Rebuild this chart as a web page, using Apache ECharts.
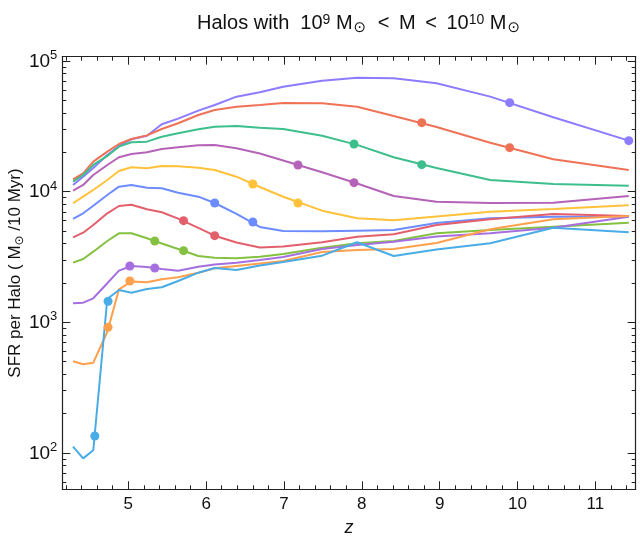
<!DOCTYPE html>
<html><head><meta charset="utf-8">
<script src="https://cdn.jsdelivr.net/npm/echarts@6/dist/echarts.min.js"></script>
<style>html,body{margin:0;padding:0;background:#fff}#c{width:640px;height:538px}</style>
</head><body><div id="c"></div>
<script>
// redshift grid shared by all curves
const zGrid = [4.29, 4.42, 4.55, 4.73, 4.88, 5.04, 5.24, 5.43, 5.64, 5.90, 6.11, 6.39, 6.69, 6.99, 7.49, 7.94, 8.41, 8.96, 9.65, 10.46, 11.43];
// SFR per halo curves
const sA = [11230, 13000, 15160, 19050, 22340, 25120, 26770, 32730, 36130, 41590, 45980, 53230, 57510, 63480, 70560, 74390, 73600, 67390, 53230, 37030, 24520];
const sB = [12420, 13800, 16930, 20200, 23130, 25260, 26900, 30130, 33310, 38560, 42100, 44620, 45980, 47620, 47370, 44620, 37880, 31210, 23660, 17670, 14630];
const sC = [11900, 13400, 15980, 18730, 22060, 23840, 24090, 26300, 27930, 29970, 31380, 31770, 30830, 30130, 26770, 22770, 18300, 15160, 12270, 11430, 11090];
const sD = [10160, 11230, 13400, 15980, 18300, 19400, 19990, 21180, 21820, 22610, 22730, 21440, 19570, 17300, 14050, 11530, 9254, 8369, 8179, 8223, 9254];
const sE = [8136, 9141, 10290, 12270, 14370, 15340, 15070, 15700, 15620, 15240, 14630, 13000, 10840, 9124, 7144, 6248, 6031, 6450, 7018, 7360, 7856];
const sF = [6171, 6823, 7800, 9419, 10900, 11230, 10710, 10600, 9808, 9141, 8179, 6751, 5359, 4995, 4969, 5021, 5083, 5751, 6248, 6427, 6427];
const sG = [4469, 4847, 5552, 6823, 7759, 7940, 7321, 6944, 6205, 5284, 4598, 4078, 3735, 3802, 4093, 4517, 4713, 5552, 6140, 6739, 6506];
const sH = [2858, 3050, 3469, 4188, 4796, 4796, 4391, 4008, 3638, 3216, 3121, 3088, 3177, 3331, 3722, 4022, 4188, 4796, 5083, 5387, 5782];
const sI = [1398, 1413, 1526, 1988, 2482, 2697, 2649, 2557, 2482, 2663, 2769, 2858, 2997, 3160, 3638, 3903, 4137, 4534, 4796, 5294, 6427];
const sJ = [503, 477, 491, 843, 1788, 2052, 2023, 2133, 2210, 2396, 2590, 2697, 2818, 2944, 3451, 3575, 3638, 4044, 5146, 6140, 6506];
const sK = [112, 91, 105, 1507, 1767, 1684, 1798, 1853, 2070, 2396, 2603, 2513, 2720, 2893, 3233, 4093, 3216, 3606, 4022, 5294, 4881];
// marked points [z, SFR]
const dA = [[9.90, 47870], [11.43, 24520]];
const dB = [[8.77, 33670], [9.90, 21670]];
const dC = [[7.90, 23130], [8.77, 16070]];
const dD = [[7.18, 15980], [7.90, 11700]];
const dE = [[6.60, 11430], [7.18, 8179]];
const dF = [[6.11, 8179], [6.60, 5853]];
const dG = [[5.71, 5989], [6.11, 4598]];
const dH = [[5.34, 4188], [5.71, 3530]];
const dI = [[5.02, 2697], [5.34, 2603]];
const dJ = [[4.74, 916], [5.02, 2070]];
const dK = [[4.57, 135], [4.74, 1448]];
// tick labels
const xTickLabels = [5, 6, 7, 8, 9, 10, 11];
const yTickExponents = [2, 3, 4, 5];

const curves = [sA, sB, sC, sD, sE, sF, sG, sH, sI, sJ, sK];
const dots = [dA, dB, dC, dD, dE, dF, dG, dH, dI, dJ, dK];
const colors = ['#8d7cff', '#f07256', '#3dbf8d', '#b463b8', '#ffc23a', '#6d8cff', '#e35f6c', '#84c141', '#a66fe0', '#ffa04c', '#49ace6'];

const X_MIN = 4.152, X_MAX = 11.519;
const Y_MIN = 52.77, Y_MAX = 107600;
const LY_MIN = Math.log10(Y_MIN), LY_MAX = Math.log10(Y_MAX);

const xMinor = [];
for (let v = 42; v <= 115; v += 2) { if (v % 10 !== 0) xMinor.push(v / 10); }
const yMinor = [];
for (let d = 1; d <= 4; d++) for (let k = 2; k <= 9; k++) {
  const l = Math.log10(k * Math.pow(10, d));
  if (l > LY_MIN && l < LY_MAX) yMinor.push(l);
}

const FONT = 'Liberation Sans';
const lineC = '#222';

function xAx(pos, vals, len, showLine, showLabel) {
  return {
    type: 'value', position: pos, min: X_MIN, max: X_MAX,
    axisLine: { show: showLine, onZero: false, lineStyle: { color: lineC, width: 1.2 } },
    axisTick: { show: true, inside: true, length: len, customValues: vals, lineStyle: { color: lineC, width: 1 } },
    axisLabel: showLabel ? { show: true, customValues: vals, fontSize: 17, color: '#111', fontFamily: FONT, margin: 7 } : { show: false },
    splitLine: { show: false }
  };
}
function yAx(pos, vals, len, showLine, showLabel) {
  return {
    type: 'value', position: pos, min: LY_MIN, max: LY_MAX,
    axisLine: { show: showLine, onZero: false, lineStyle: { color: lineC, width: 1.2 } },
    axisTick: { show: true, inside: true, length: len, customValues: vals, lineStyle: { color: lineC, width: 1 } },
    axisLabel: showLabel ? {
      show: true, customValues: vals, margin: 5,
      formatter: v => '{b|10}{s|' + Math.round(v) + '}',
      rich: {
        b: { fontSize: 19, fontFamily: FONT, color: '#111', verticalAlign: 'bottom', lineHeight: 20 },
        s: { fontSize: 13, fontFamily: FONT, color: '#111', verticalAlign: 'bottom', padding: [0, 0, 9, 0], lineHeight: 13 }
      }
    } : { show: false },
    splitLine: { show: false }
  };
}

const series = [];
curves.forEach((c, i) => {
  series.push({
    type: 'line', xAxisIndex: 0, yAxisIndex: 0,
    data: zGrid.map((z, j) => [z, c[j]]),
    showSymbol: false, symbol: 'none', smooth: false,
    lineStyle: { color: colors[i], width: 2 },
    z: 3
  });
});
dots.forEach((d, i) => {
  series.push({
    type: 'scatter', xAxisIndex: 0, yAxisIndex: 0,
    data: d, symbol: 'circle', symbolSize: 9,
    itemStyle: { color: colors[i], opacity: 1 },
    z: 4
  });
});

const chart = echarts.init(document.getElementById('c'), null, { renderer: 'canvas' });
chart.setOption({
  animation: false,
  backgroundColor: '#fff',
  grid: { left: 62.3, right: 4.3, top: 56.7, bottom: 48.7, containLabel: false, outerBoundsMode: 'none' },
  title: {
    text: 'Halos with  10{s|9} M{u|⊙} \u2009< \u2009M \u2009< \u200910{s|10} M{u|⊙}',
    left: 192, top: 5,
    textStyle: {
      fontSize: 20, fontFamily: FONT, color: '#111', fontWeight: 'normal',
      rich: {
        s: { fontSize: 14, fontFamily: FONT, color: '#111', verticalAlign: 'bottom', padding: [0, 0, 9, 0] },
        u: { fontSize: 15, fontFamily: 'DejaVu Sans', color: '#111', verticalAlign: 'top', padding: [11, 2, 0, 1] }
      }
    }
  },
  xAxis: [
    Object.assign(xAx('bottom', xTickLabels, 8, true, true), {
      name: 'z', nameLocation: 'middle', nameGap: 30, nameMoveOverlap: false,
      nameTextStyle: { fontSize: 18, fontStyle: 'italic', fontFamily: FONT, color: '#111' }
    }),
    xAx('bottom', xMinor, 4, false, false),
    xAx('top', xTickLabels, 8, true, false),
    xAx('top', xMinor, 4, false, false)
  ],
  yAxis: [
    { type: 'log', logBase: 10, min: Y_MIN, max: Y_MAX, show: false, position: 'left' },
    Object.assign(yAx('left', yTickExponents, 8, true, true), {
      name: 'SFR per Halo ( M{u|⊙} /10 Myr)', nameLocation: 'middle', nameGap: 36, nameRotate: 90, nameMoveOverlap: false,
      nameTextStyle: {
        fontSize: 17, fontFamily: FONT, color: '#111',
        rich: { u: { fontSize: 12, fontFamily: 'DejaVu Sans', color: '#111', verticalAlign: 'top', padding: [9, 0, 0, 0] } }
      }
    }),
    yAx('left', yMinor, 4, false, false),
    yAx('right', yTickExponents, 8, true, false),
    yAx('right', yMinor, 4, false, false)
  ],
  series: series
});
</script>
</body></html>
